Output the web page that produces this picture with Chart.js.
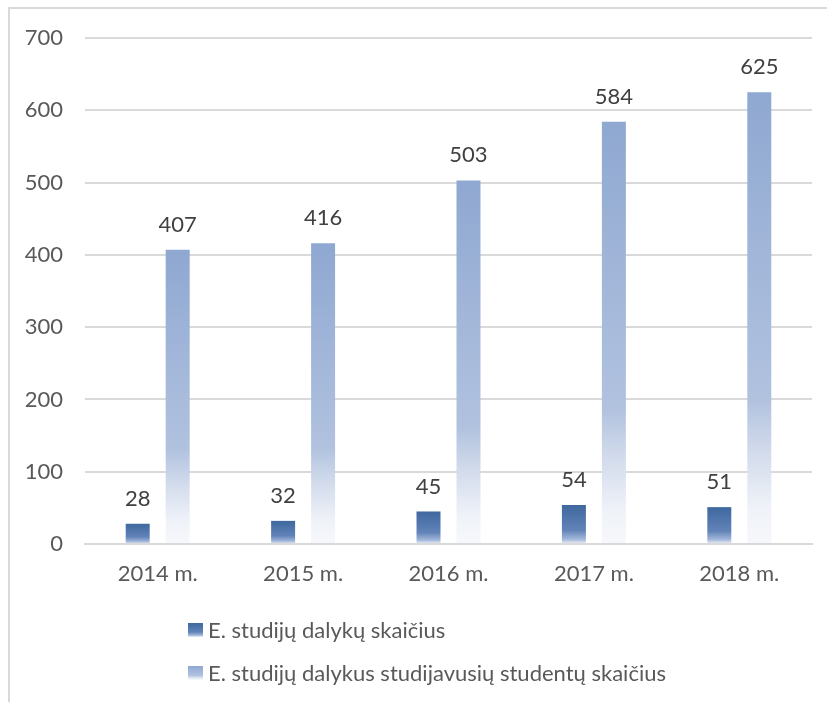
<!DOCTYPE html>
<html>
<head>
<meta charset="utf-8">
<script src="https://cdn.jsdelivr.net/npm/chart.js@4"></script>
<style>
    body { margin: 0; background: #fff; }
    #wrap { position: relative; width: 827px; height: 702px; overflow: hidden; }
    #frame { position: absolute; left: 8px; top: 7px; width: 900px; height: 800px;
        border-left: 2px solid #D9D9D9; border-top: 2px solid #D9D9D9; }
    canvas { position: absolute; left: 0; top: 0; }
    .legendItem { position: absolute; left: 188px; font: 22px Lato, sans-serif; color: #595959;
        display: flex; align-items: center; white-space: nowrap; }
    .legendBox { width: 15px; height: 14px; margin-right: 5px; }
</style>
</head>
<body>
<div id="wrap">
    <div id="frame"></div>
    <canvas id="myChart" width="827" height="702"></canvas>
    <div id="legend"></div>
</div>
<script>
const categories = ['2014 m.', '2015 m.', '2016 m.', '2017 m.', '2018 m.'];
const courseCounts = [28, 32, 45, 54, 51];
const studentCounts = [407, 416, 503, 584, 625];
const seriesNames = ['E. studijų dalykų skaičius', 'E. studijų dalykus studijavusių studentų skaičius'];
const yTicks = [0, 100, 200, 300, 400, 500, 600, 700];

// gradient stops for each series (top of bar -> bottom)
const darkStops = [[0, '#3E689F'], [0.65, '#6283B8'], [0.88, '#A3B8DA'], [1, '#EEF2F8']];
const lightStops = [[0, '#8FA8D1'], [0.68, '#B1C2DF'], [0.8, '#D3DCEC'], [0.92, '#EFF2F8'], [1, '#F6F8FB']];

function barGradient(stops) {
    return function(context) {
        const chart = context.chart;
        if (!chart.chartArea || context.raw === undefined) return stops[0][1];
        const y = chart.scales.y;
        const top = y.getPixelForValue(context.raw);
        const base = y.getPixelForValue(0);
        const g = chart.ctx.createLinearGradient(0, top, 0, base);
        stops.forEach(s => g.addColorStop(s[0], s[1]));
        return g;
    };
}

function cssGradient(stops) {
    return 'linear-gradient(to bottom, ' + stops.map(s => s[1] + ' ' + (s[0] * 100) + '%').join(', ') + ')';
}

// value labels above bars
const valueLabels = {
    id: 'valueLabels',
    afterDatasetsDraw(chart) {
        const ctx = chart.ctx;
        ctx.save();
        ctx.font = '22px Lato, sans-serif';
        ctx.fillStyle = '#404040';
        ctx.textAlign = 'center';
        ctx.textBaseline = 'middle';
        chart.data.datasets.forEach((ds, i) => {
            chart.getDatasetMeta(i).data.forEach((bar, j) => {
                ctx.fillText(ds.data[j], bar.x, bar.y - 25);
            });
        });
        ctx.restore();
    }
};

new Chart(document.getElementById('myChart'), {
    type: 'bar',
    data: {
        labels: categories,
        datasets: [{
            label: seriesNames[0],
            data: courseCounts,
            backgroundColor: barGradient(darkStops),
            categoryPercentage: 0.55,
            barPercentage: 0.6
        }, {
            label: seriesNames[1],
            data: studentCounts,
            backgroundColor: barGradient(lightStops),
            categoryPercentage: 0.55,
            barPercentage: 0.6
        }]
    },
    options: {
        responsive: false,
        animation: false,
        layout: { padding: { top: 38, right: 15, left: 0, bottom: 0 } },
        plugins: { legend: { display: false }, tooltip: { enabled: false } },
        scales: {
            x: {
                grid: { display: false, drawTicks: false },
                border: { color: '#D9D9D9', width: 2 },
                ticks: { color: '#595959', font: { family: 'Lato', size: 22 }, padding: 17 },
                afterFit(scale) { scale.height = 158; }
            },
            y: {
                min: 0,
                max: 700,
                afterBuildTicks(scale) { scale.ticks = yTicks.map(v => ({ value: v })); },
                grid: { color: '#D9D9D9', lineWidth: 2, drawTicks: false },
                border: { display: false },
                ticks: { color: '#595959', font: { family: 'Lato', size: 22 }, padding: 22 },
                afterFit(scale) { scale.width = 85; }
            }
        }
    },
    plugins: [valueLabels]
});

// legend below the plot, one item per line
const legend = document.getElementById('legend');
[darkStops, lightStops].forEach((stops, i) => {
    const item = document.createElement('div');
    item.className = 'legendItem';
    item.style.top = (i === 0 ? 616 : 659) + 'px';
    item.innerHTML = `<div class="legendBox" style="background:${cssGradient(stops)}"></div><span>${seriesNames[i]}</span>`;
    legend.appendChild(item);
});
</script>
</body>
</html>
